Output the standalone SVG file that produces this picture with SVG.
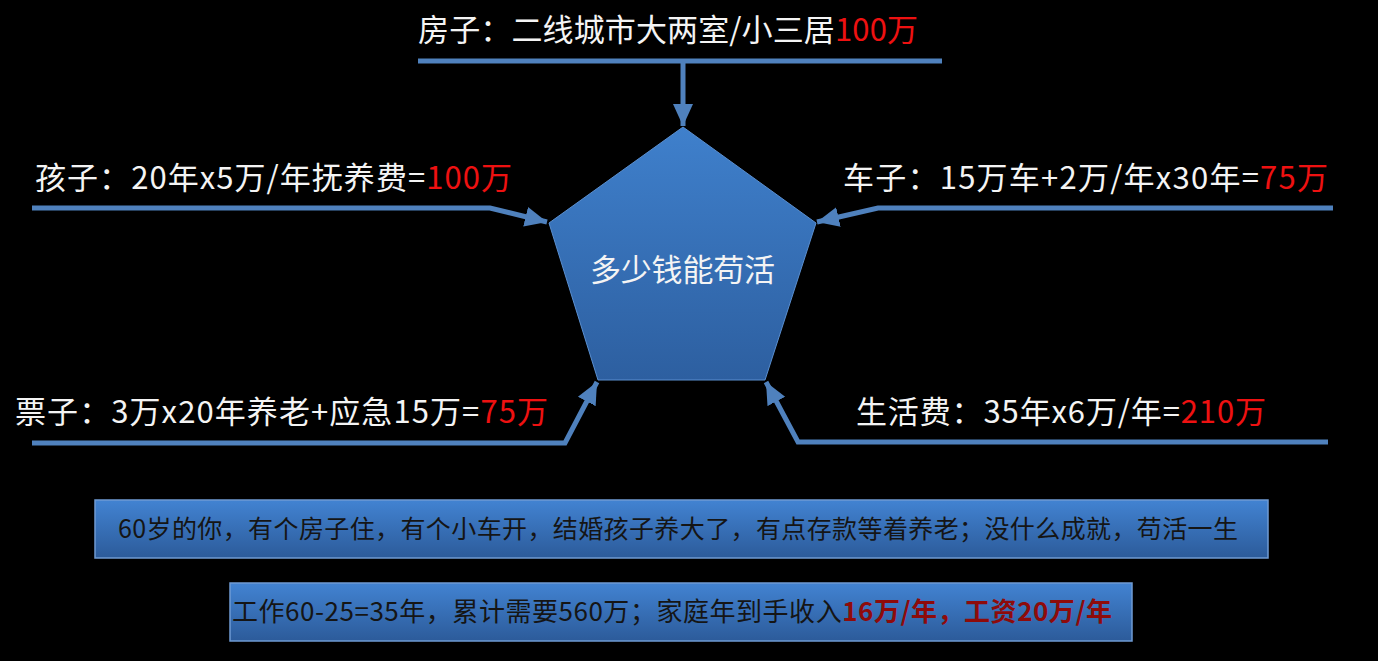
<svg xmlns="http://www.w3.org/2000/svg" width="1378" height="661" viewBox="0 0 1378 661">
<style>
text{font-family:"Noto Sans CJK SC","Liberation Sans",sans-serif}
.lbl{font-size:31px;fill:#f4f4f4}
.red{fill:#ee1111}
.conn{fill:none;stroke:#4f81bd;stroke-width:5;stroke-linejoin:miter}
.box{stroke:#6f9bd3;stroke-width:1.5}
.btxt{font-size:25px;fill:#151515}
.dred{fill:#8e0b0b;font-weight:bold}
</style>
<defs>
<marker id="ah" markerUnits="userSpaceOnUse" markerWidth="24" markerHeight="22" refX="22" refY="11" orient="auto">
<path d="M0,1 L22,11 L0,21 Z" fill="#4f81bd"/>
</marker>
<linearGradient id="pg" x1="0" y1="0" x2="0" y2="1">
<stop offset="0" stop-color="#3f80cc"/>
<stop offset="1" stop-color="#2d5fa0"/>
</linearGradient>
<linearGradient id="bg" x1="0" y1="0" x2="0" y2="1">
<stop offset="0" stop-color="#4283d2"/>
<stop offset="1" stop-color="#2c5b9a"/>
</linearGradient>
</defs>
<rect width="1378" height="661" fill="#000"/>
<g id="connectors">
<line class="conn" x1="418" y1="61" x2="942" y2="61"/>
<line class="conn" x1="683" y1="61" x2="683" y2="126" marker-end="url(#ah)"/>
<polyline class="conn" points="32,208 490,208 547,222" marker-end="url(#ah)"/>
<polyline class="conn" points="1333,208 878,208 817,222" marker-end="url(#ah)"/>
<polyline class="conn" points="32,443 565,443 597,382" marker-end="url(#ah)"/>
<polyline class="conn" points="1328,442 798,442 766,382" marker-end="url(#ah)"/>
</g>
<g id="center">
<polygon points="683,127 816,223 765,380 598,380 549,223" fill="url(#pg)" stroke="#5a8fd0" stroke-width="1"/>
<text x="590" y="281" textLength="185" lengthAdjust="spacing" style="font-size:31px;fill:#f4f4f4">多少钱能苟活</text>
</g>
<g id="house">
<text class="lbl" x="418" y="41" textLength="500" lengthAdjust="spacing">房子：二线城市大两室/小三居<tspan class="red">100万</tspan></text>
</g>
<g id="child">
<text class="lbl" x="35" y="189" textLength="477" lengthAdjust="spacing">孩子：20年x5万/年抚养费=<tspan class="red">100万</tspan></text>
</g>
<g id="car">
<text class="lbl" x="843" y="189" textLength="485" lengthAdjust="spacing">车子：15万车+2万/年x30年=<tspan class="red">75万</tspan></text>
</g>
<g id="money">
<text class="lbl" x="15" y="423" textLength="533" lengthAdjust="spacing">票子：3万x20年养老+应急15万=<tspan class="red">75万</tspan></text>
</g>
<g id="living">
<text class="lbl" x="856" y="423" textLength="410" lengthAdjust="spacing">生活费：35年x6万/年=<tspan class="red">210万</tspan></text>
</g>
<g id="summary">
<rect class="box" x="95" y="500" width="1173" height="58" fill="url(#bg)"/>
<text class="btxt" x="118" y="538" textLength="1120" lengthAdjust="spacing">60岁的你，有个房子住，有个小车开，结婚孩子养大了，有点存款等着养老；没什么成就，苟活一生</text>
</g>
<g id="income">
<rect class="box" x="230" y="583" width="902" height="58" fill="url(#bg)"/>
<text class="btxt" x="232" y="621" style="font-size:26px" textLength="880" lengthAdjust="spacing">工作60-25=35年，累计需要560万；家庭年到手收入<tspan class="dred">16万/年，工资20万/年</tspan></text>
</g>
</svg>
